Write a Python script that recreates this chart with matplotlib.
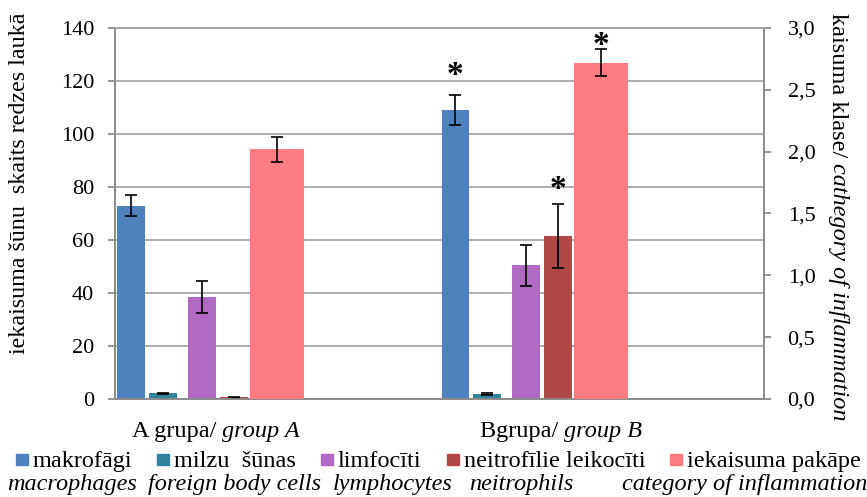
import numpy as np
import matplotlib
matplotlib.use('Agg')
import matplotlib.pyplot as plt
from matplotlib.patches import Rectangle
from matplotlib.ticker import FuncFormatter

plt.rcParams['font.family'] = ['Liberation Serif', 'DejaVu Serif']

# groups and series (left axis: cell counts, right axis: inflammation grade)
groups = ['A', 'B']
group_labels = [('A grupa/ ', 'group A'), ('Bgrupa/ ', 'group B')]

series_lv = ['makrofāgi', 'milzu  šūnas', 'limfocīti', 'neitrofīlie leikocīti', 'iekaisuma pakāpe']
series_en = ['macrophages', 'foreign body cells', 'lymphocytes', 'neitrophils', 'category of inflammation']
colors = ['#4F81BD', '#31849B', '#B06AC2', '#B04846', '#FF7C80']

makrofagi = [73, 109]
makrofagi_err = [4, 5.7]
milzu = [2.1, 1.8]
milzu_err = [0.3, 0.3]
limfociti = [38.5, 50.4]
limfociti_err = [6.2, 7.8]
neitrofili = [0.6, 61.4]
neitrofili_err = [0.3, 12]
pakape = [2.02, 2.72]
pakape_err = [0.10, 0.11]

# significance marks for group B (left axis units)
stars_b = [(0, 122), (3, 79), (4, 133.5)]

W, H = 867, 497
fig = plt.figure(figsize=(W / 100, H / 100), dpi=100)
ax = fig.add_axes([115 / W, 1 - 399 / H, (764 - 115) / W, (399 - 28) / H])
ax2 = ax.twinx()

x = np.arange(len(groups))
offsets = [-0.4508, -0.3523, -0.2323, -0.1338, -0.0015]
widths = [0.086, 0.086, 0.086, 0.086, 0.166]
vals = [makrofagi, milzu, limfociti, neitrofili]
errs = [makrofagi_err, milzu_err, limfociti_err, neitrofili_err]
ekw = dict(ecolor='black', elinewidth=1.2, capsize=4, capthick=1.2)

for i in range(4):
    ax.bar(x + offsets[i], vals[i], widths[i], yerr=errs[i], color=colors[i],
           error_kw=ekw, zorder=3)
ax2.bar(x + offsets[4], pakape, widths[4], yerr=pakape_err, color=colors[4],
        error_kw=ekw, zorder=3)

for idx, yv in stars_b:
    ax2.text(1 + offsets[idx], yv * 3 / 140, '*', ha='center', va='center',
             fontsize=24, fontweight='bold', zorder=5)

ax.set_xlim(-0.5, 1.5)
ax.set_ylim(0, 140)
ax.set_yticks(range(0, 141, 20))
ax2.set_ylim(0, 3)
ax2.set_yticks(np.arange(0, 3.01, 0.5))
ax2.yaxis.set_major_formatter(FuncFormatter(lambda v, p: f'{v:.1f}'.replace('.', ',')))

grid_c = '#A6A6A6'
ax.yaxis.grid(True, color=grid_c, linewidth=1.3, zorder=0)
ax.set_axisbelow(True)
ax.set_xticks([])
for a in (ax, ax2):
    for s in a.spines.values():
        s.set_color('#8C8C8C')
        s.set_linewidth(1.3)
    a.spines['top'].set_color(grid_c)
ax.tick_params(axis='y', colors='#8C8C8C', length=5, width=1.3, pad=10,
               labelcolor='black', labelsize=16)
ax2.tick_params(axis='y', colors='#8C8C8C', length=5, width=1.3, pad=12,
                labelcolor='black', labelsize=16)
ax2.patch.set_visible(False)

fig.canvas.draw()
rend = fig.canvas.get_renderer()


def fx(px):
    return px / W


def fy(py):
    return 1 - py / H


def pieces(x0, ybase, parts, size=17.5):
    # draw text pieces side by side (normal/italic) starting at pixel x0
    cur = x0
    for txt, style in parts:
        t = fig.text(fx(cur), fy(ybase), txt, fontsize=size, style=style,
                     ha='left', va='baseline')
        bb = t.get_window_extent(renderer=rend)
        cur += bb.width
    return cur


# y-axis labels
fig.text(fx(20), fy(354), 'iekaisuma šūnu  skaits redzes laukā', rotation=90,
         ha='center', va='bottom', fontsize=17.3)
t1 = fig.text(fx(838), fy(13), 'kaisuma klase/ ', rotation=270, ha='center',
              va='top', fontsize=17.5)
bb = t1.get_window_extent(renderer=rend)
fig.text(fx(838), (bb.y0) / H, 'cathegory of inflammation', rotation=270,
         ha='center', va='top', fontsize=17.5, style='italic')

# group labels
group_x = [132, 480]
for gx, (lv, en) in zip(group_x, group_labels):
    pieces(gx, 437, [(lv, 'normal'), (en, 'italic')])

# legend, two lines per entry
sq_x = [16, 157, 321, 447, 670]
en_x = [7, 148, 333, 469, 622]
for i in range(5):
    fig.patches.append(Rectangle((fx(sq_x[i]), fy(465)), 12 / W, 11 / H,
                                 transform=fig.transFigure, color=colors[i]))
    fig.text(fx(sq_x[i] + 17), fy(467), series_lv[i], fontsize=17.5,
             ha='left', va='baseline')
    fig.text(fx(en_x[i]), fy(490), series_en[i], fontsize=17.5, style='italic',
             ha='left', va='baseline')

fig.savefig('out.png', dpi=100)
